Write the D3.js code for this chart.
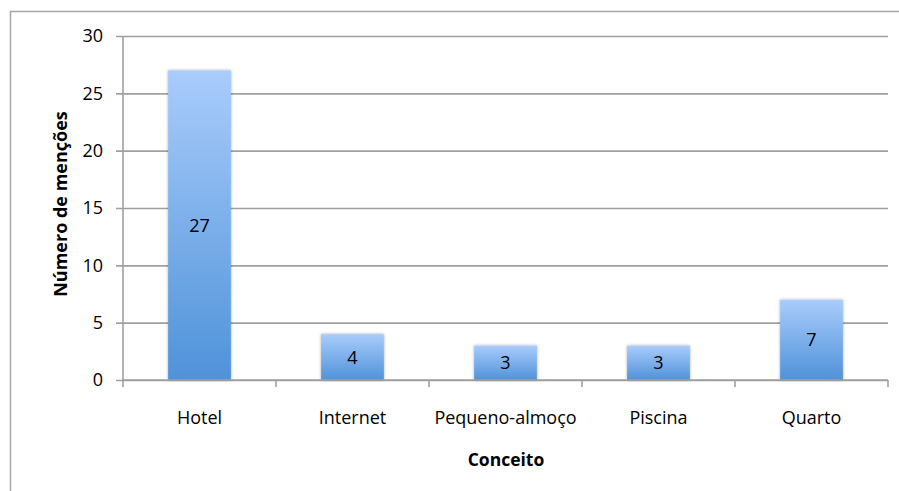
<!DOCTYPE html>
<html>
<head>
<meta charset="utf-8">
<script src="https://cdn.jsdelivr.net/npm/d3@7"></script>
<style>
  html, body { margin: 0; padding: 0; background: #fff; }
  svg { display: block; font-family: "Open Sans", "Liberation Sans", sans-serif; }
</style>
</head>
<body>
<svg id="chart" width="899" height="491"></svg>
<script>
// Mentions per concept
const categories = ["Hotel", "Internet", "Pequeno-almoço", "Piscina", "Quarto"];
const values = [27, 4, 3, 3, 7];
const yTicks = [0, 5, 10, 15, 20, 25, 30];
const xTitle = "Conceito";
const yTitle = "Número de menções";

const svg = d3.select("#chart");
const plot = { left: 123, right: 888, top: 36, bottom: 380 };
const FONT = "'Open Sans', 'Liberation Sans', sans-serif";

// Outer chart frame
svg.append("rect")
  .attr("x", 10.5).attr("y", 11.5)
  .attr("width", 900).attr("height", 500)
  .attr("fill", "#fff")
  .attr("stroke", "#a6a6a6").attr("stroke-width", 1.5);

const x = d3.scaleBand().domain(categories)
  .range([plot.left, plot.right]).paddingInner(0.59).paddingOuter(0.295);
const y = d3.scaleLinear().domain([0, 30]).range([plot.bottom, plot.top]);

const defs = svg.append("defs");
const grad = defs.append("linearGradient")
  .attr("id", "barFill").attr("x1", 0).attr("y1", 0).attr("x2", 0).attr("y2", 1);
grad.append("stop").attr("offset", "0%").attr("stop-color", "#a9ccfb");
grad.append("stop").attr("offset", "100%").attr("stop-color", "#4f92d9");

const shadow = defs.append("filter").attr("id", "barShadow")
  .attr("x", "-20%").attr("y", "-10%").attr("width", "140%").attr("height", "120%");
shadow.append("feGaussianBlur").attr("in", "SourceAlpha").attr("stdDeviation", 1.8).attr("result", "b");
shadow.append("feComponentTransfer").attr("in", "b").attr("result", "s")
  .append("feFuncA").attr("type", "linear").attr("slope", 0.35);
const merge = shadow.append("feMerge");
merge.append("feMergeNode").attr("in", "s");
merge.append("feMergeNode").attr("in", "SourceGraphic");

// Horizontal gridlines with left tick marks
const yAxis = d3.axisLeft(y).tickValues(yTicks)
  .tickSize(-(plot.right - plot.left)).tickSizeOuter(0).tickPadding(20);
const gy = svg.append("g").attr("transform", `translate(${plot.left},0)`).call(yAxis);
gy.select(".domain").remove();
gy.selectAll(".tick line")
  .attr("x1", -7)
  .attr("stroke", "#a0a0a0").attr("stroke-width", 1.6);
gy.selectAll(".tick text")
  .attr("font-size", 18).attr("fill", "#000")
  .attr("font-family", FONT);

// Vertical axis line
svg.append("line")
  .attr("x1", plot.left).attr("x2", plot.left)
  .attr("y1", plot.top).attr("y2", plot.bottom)
  .attr("stroke", "#a0a0a0").attr("stroke-width", 1.6);

// Bars
svg.append("g").selectAll("rect").data(categories).join("rect")
  .attr("x", d => x(d))
  .attr("y", (d, i) => y(values[i]))
  .attr("width", x.bandwidth())
  .attr("height", (d, i) => y(0) - y(values[i]))
  .attr("fill", "url(#barFill)")
  .attr("filter", "url(#barShadow)");

// Category axis
const step = x.step();
const boundaries = d3.range(categories.length + 1).map(i => plot.left + i * step);
svg.append("line")
  .attr("x1", plot.left).attr("x2", plot.right)
  .attr("y1", plot.bottom).attr("y2", plot.bottom)
  .attr("stroke", "#a0a0a0").attr("stroke-width", 1.6);
svg.append("g").selectAll("line").data(boundaries).join("line")
  .attr("x1", d => d).attr("x2", d => d)
  .attr("y1", plot.bottom).attr("y2", plot.bottom + 7)
  .attr("stroke", "#a0a0a0").attr("stroke-width", 1.6);
svg.append("g").selectAll("text").data(categories).join("text")
  .attr("x", d => x(d) + x.bandwidth() / 2)
  .attr("y", 424)
  .attr("text-anchor", "middle")
  .attr("font-size", 18).attr("fill", "#000")
  .text(d => d);

// Value labels centred in each bar
svg.append("g").selectAll("text").data(categories).join("text")
  .attr("x", d => x(d) + x.bandwidth() / 2)
  .attr("y", (d, i) => (y(values[i]) + y(0)) / 2)
  .attr("dy", "0.36em")
  .attr("text-anchor", "middle")
  .attr("font-size", 18).attr("fill", "#000")
  .text((d, i) => values[i]);

// Axis titles
svg.append("text")
  .attr("x", 506)
  .attr("y", 466)
  .attr("text-anchor", "middle")
  .attr("font-size", 17.5).attr("font-weight", "bold")
  .text(xTitle);
svg.append("text")
  .attr("transform", "translate(67,204) rotate(-90)")
  .attr("text-anchor", "middle")
  .attr("font-size", 18).attr("font-weight", "bold")
  .text(yTitle);
</script>
</body>
</html>
